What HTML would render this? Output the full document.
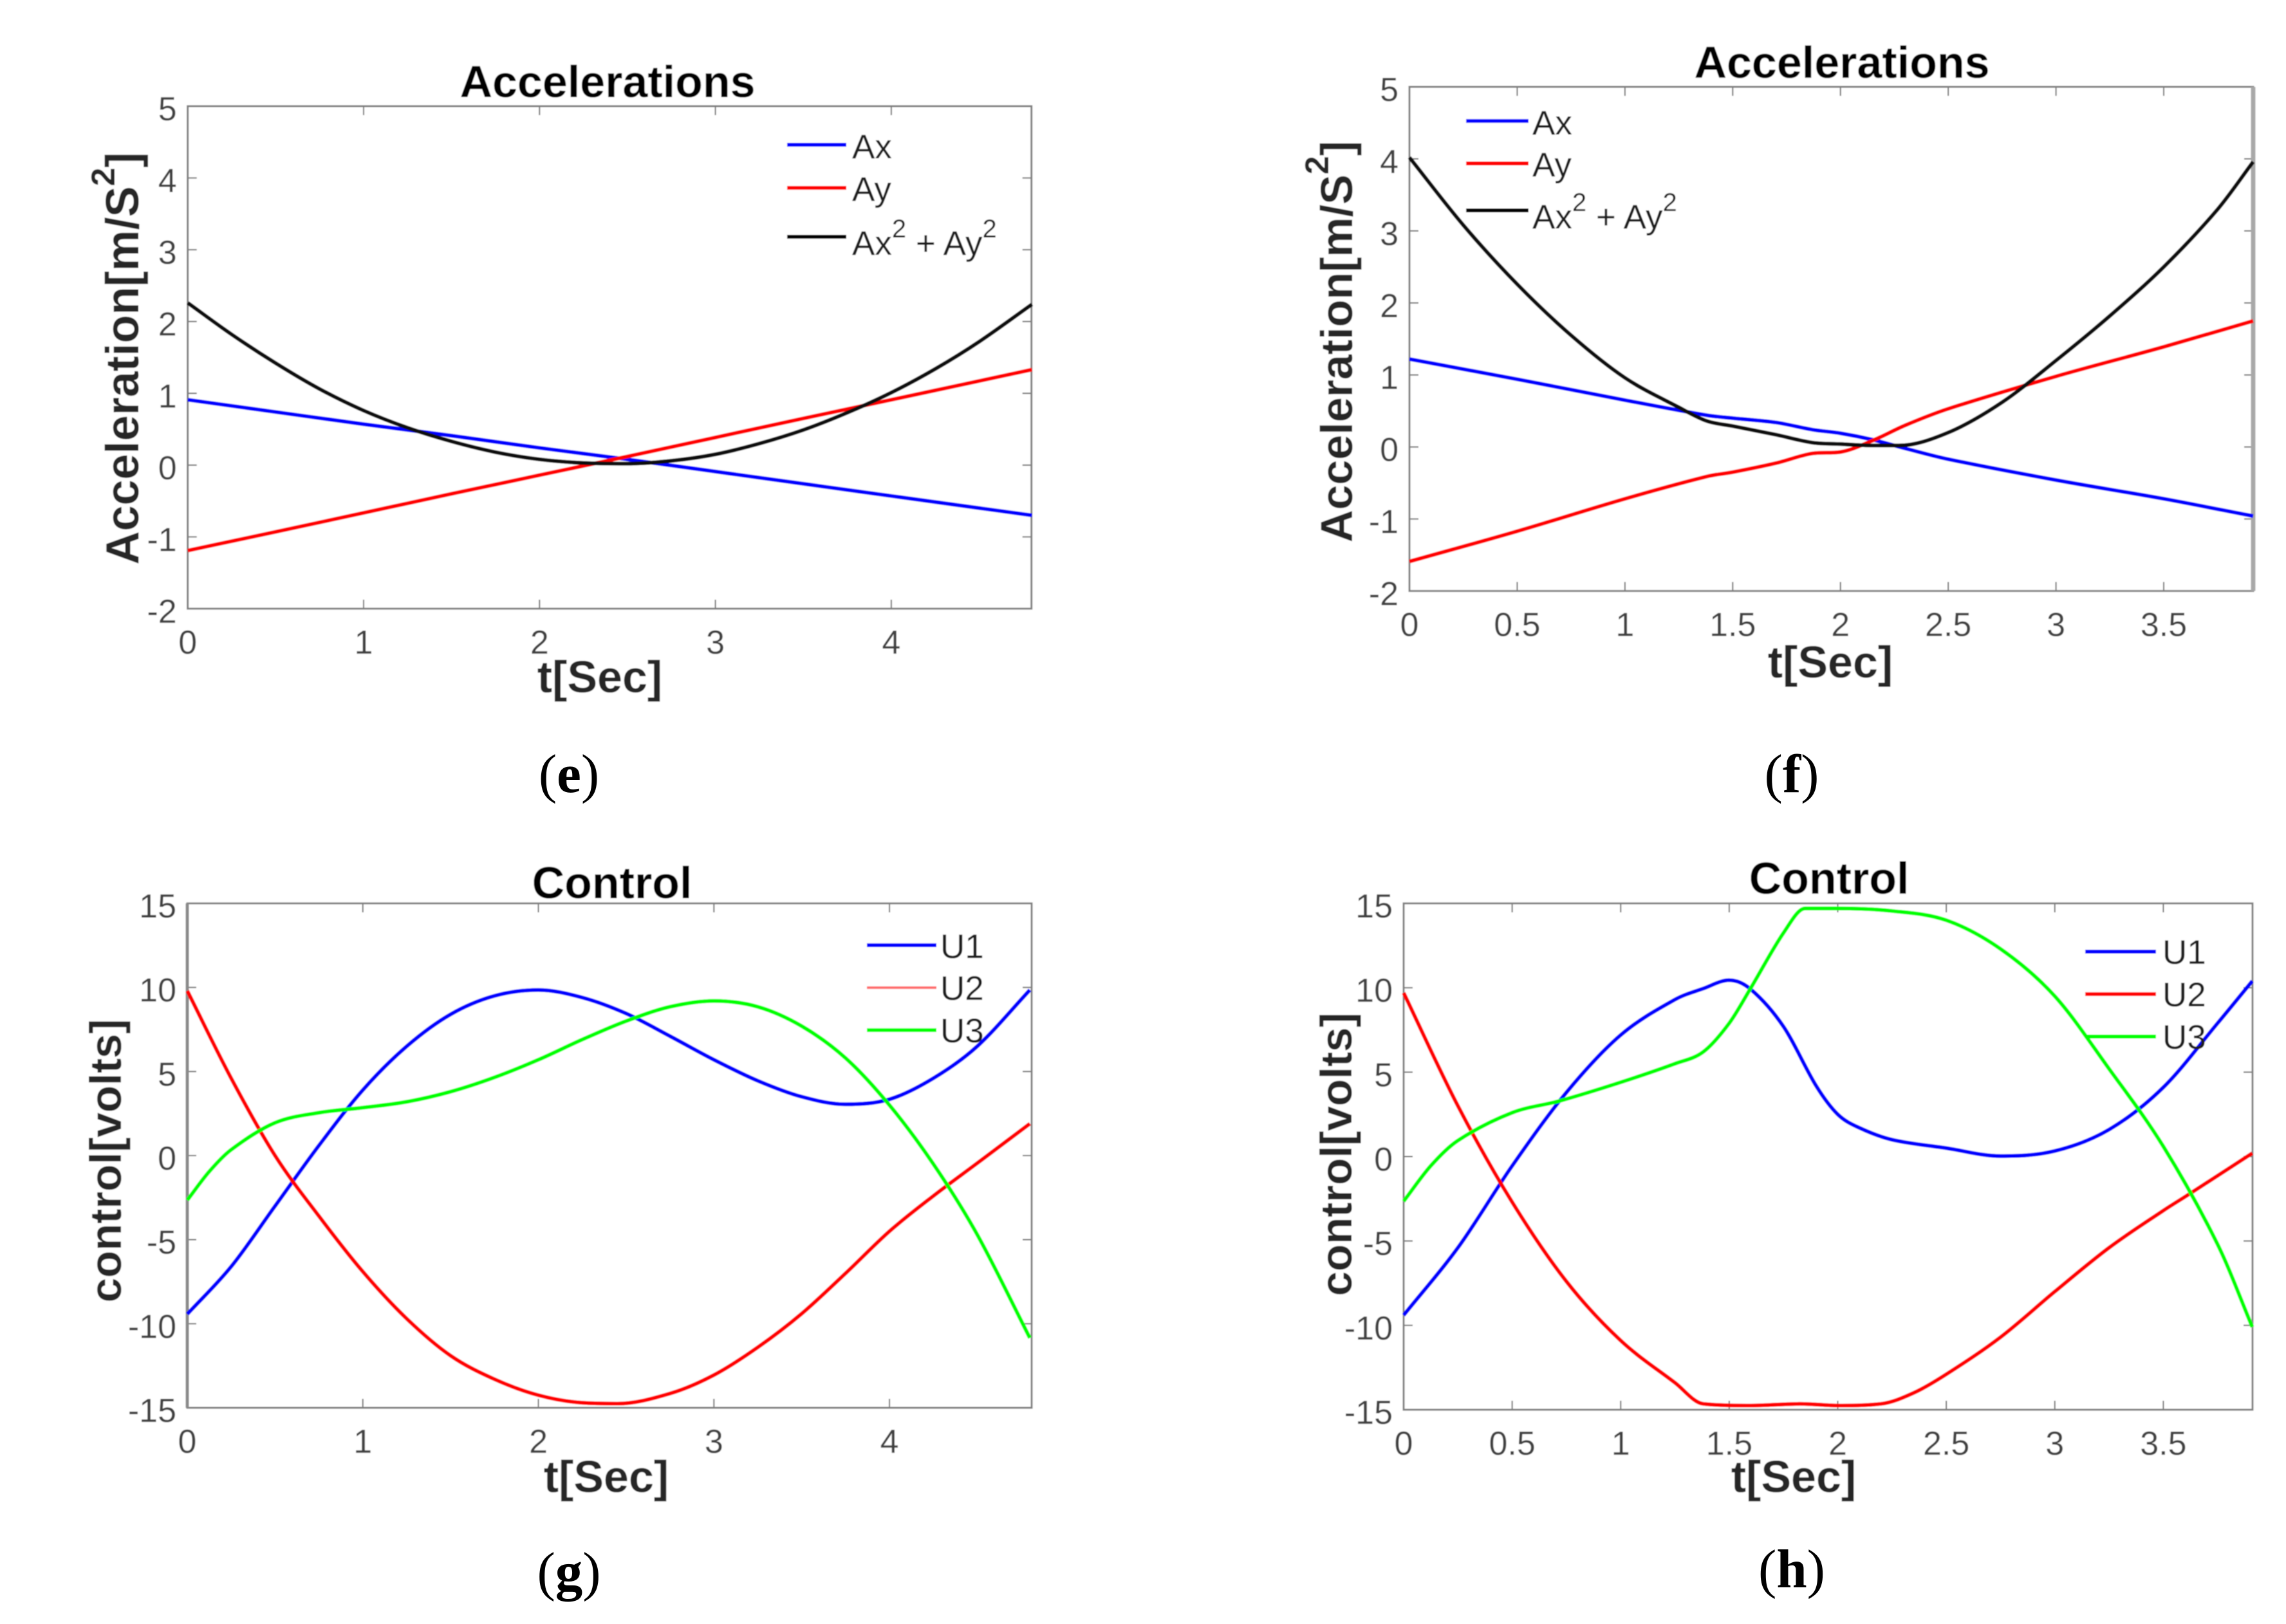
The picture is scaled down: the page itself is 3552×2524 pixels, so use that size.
<!DOCTYPE html>
<html lang="en">
<head>
<meta charset="utf-8">
<title>Accelerations and Control charts</title>
<style>
html,body{margin:0;padding:0;background:#fff;width:3552px;height:2524px;overflow:hidden}
svg{display:block}
text{font-family:"Liberation Sans",sans-serif}
.title{font-size:70px;font-weight:bold;fill:#000;text-anchor:middle}
.xlabel{font-size:70px;font-weight:bold;fill:#262626;text-anchor:middle}
.ylabel{font-weight:bold;fill:#262626;text-anchor:middle}
.legend{font-size:53px;fill:#1a1a1a}
.tick{font-size:52px;fill:#404040}
.caption{font-family:"Liberation Serif",serif;font-size:85px;fill:#000;text-anchor:middle}
.key{stroke-width:6;fill:none}
</style>
</head>
<body>
<svg id="figure" xmlns="http://www.w3.org/2000/svg" width="3552" height="2524" viewBox="0 0 3552 2524">
<defs><filter id="soft" x="0" y="0" width="100%" height="100%" filterUnits="objectBoundingBox"><feGaussianBlur stdDeviation="0.9"/></filter></defs>
<rect width="3552" height="2524" fill="#fff"/>

<g filter="url(#soft)">
  <rect x="100" y="60" width="1600" height="1060" fill="#fff"/>
  <g id="marks-e"></g>
  <text class="title" x="944" y="151">Accelerations</text>
  <text class="xlabel" x="932" y="1076">t[Sec]</text>
  <text class="ylabel" font-size="72" transform="translate(215 557) rotate(-90)">Acceleration[m/S<tspan font-size="52" dy="-37">2</tspan><tspan dy="37">]</tspan></text>
  <line class="key" x1="1223" x2="1315" y1="225" y2="225" stroke="#0000ff"/>
  <text class="legend" x="1324" y="246">Ax</text>
  <line class="key" x1="1223" x2="1315" y1="292" y2="292" stroke="#ff0000"/>
  <text class="legend" x="1324" y="312">Ay</text>
  <line class="key" x1="1223" x2="1315" y1="368" y2="368" stroke="#000"/>
  <text class="legend" x="1324" y="396">Ax<tspan font-size="40" dy="-27">2</tspan><tspan dy="27"> + Ay</tspan><tspan font-size="40" dy="-27">2</tspan></text>
</g>
<text class="caption" x="884" y="1231">(<tspan font-weight="bold">e</tspan>)</text>

<g filter="url(#soft)">
  <rect x="1950" y="40" width="1602" height="1060" fill="#fff"/>
  <g id="marks-f"></g>
  <text class="title" x="2862" y="121">Accelerations</text>
  <text class="xlabel" x="2844" y="1053">t[Sec]</text>
  <text class="ylabel" font-size="70" transform="translate(2101 531) rotate(-90)">Acceleration[m/S<tspan font-size="52" dy="-37">2</tspan><tspan dy="37">]</tspan></text>
  <line class="key" x1="2278" x2="2375" y1="188" y2="188" stroke="#0000ff"/>
  <text class="legend" x="2381" y="209">Ax</text>
  <line class="key" x1="2278" x2="2375" y1="254" y2="254" stroke="#ff0000"/>
  <text class="legend" x="2381" y="274">Ay</text>
  <line class="key" x1="2278" x2="2375" y1="327" y2="327" stroke="#000"/>
  <text class="legend" x="2381" y="355">Ax<tspan font-size="40" dy="-27">2</tspan><tspan dy="27"> + Ay</tspan><tspan font-size="40" dy="-27">2</tspan></text>
</g>
<text class="caption" x="2784" y="1231">(<tspan font-weight="bold">f</tspan>)</text>

<g filter="url(#soft)">
  <rect x="100" y="1320" width="1600" height="1040" fill="#fff"/>
  <g id="marks-g"></g>
  <text class="title" x="951" y="1396">Control</text>
  <text class="xlabel" x="942" y="2319">t[Sec]</text>
  <text class="ylabel" font-size="69" transform="translate(188 1804) rotate(-90)">control[volts]</text>
  <line class="key" x1="1347" x2="1455" y1="1469" y2="1469" stroke="#0000ff"/>
  <text class="legend" x="1461" y="1489">U1</text>
  <line class="key" x1="1347" x2="1455" y1="1535" y2="1535" stroke="#ff6a6a" style="stroke-width:4"/>
  <text class="legend" x="1461" y="1554">U2</text>
  <line class="key" x1="1347" x2="1455" y1="1601" y2="1601" stroke="#00ff00"/>
  <text class="legend" x="1461" y="1620">U3</text>
</g>
<text class="caption" x="884" y="2471">(<tspan font-weight="bold">g</tspan>)</text>

<g filter="url(#soft)">
  <rect x="1950" y="1320" width="1602" height="1040" fill="#fff"/>
  <g id="marks-h"></g>
  <text class="title" x="2842" y="1389">Control</text>
  <text class="xlabel" x="2787" y="2319">t[Sec]</text>
  <text class="ylabel" font-size="69" transform="translate(2100 1794) rotate(-90)">control[volts]</text>
  <line class="key" x1="3240" x2="3350" y1="1479" y2="1479" stroke="#0000ff"/>
  <text class="legend" x="3360" y="1498">U1</text>
  <line class="key" x1="3240" x2="3350" y1="1545" y2="1545" stroke="#ff0000"/>
  <text class="legend" x="3360" y="1564">U2</text>
  <line class="key" x1="3240" x2="3350" y1="1611" y2="1611" stroke="#00ff00"/>
  <text class="legend" x="3360" y="1630">U3</text>
</g>
<text class="caption" x="2784" y="2467">(<tspan font-weight="bold">h</tspan>)</text>
</svg>

<script>
// Tick labels
const accelYTicks = [-2, -1, 0, 1, 2, 3, 4, 5];
const controlYTicks = [-15, -10, -5, 0, 5, 10, 15];
const wholeSecondTicks = [0, 1, 2, 3, 4];
const halfSecondTicks = [0, 0.5, 1, 1.5, 2, 2.5, 3, 3.5];

// Panel (e)
const eLineTimes = [0, 0.5, 1, 1.5, 2, 2.5, 3, 3.5, 4, 4.8];
const eAx = [0.91, 0.74, 0.57, 0.41, 0.24, 0.08, -0.09, -0.26, -0.43, -0.70];
const eAy = [-1.19, -0.93, -0.665, -0.40, -0.14, 0.12, 0.385, 0.65, 0.91, 1.33];
const eSumTimes = [0, 0.25, 0.5, 0.75, 1, 1.25, 1.5, 1.75, 2, 2.25, 2.5, 2.75, 3, 3.25, 3.5, 3.75, 4, 4.25, 4.5, 4.8];
const eSum = [2.26, 1.82, 1.42, 1.06, 0.76, 0.52, 0.33, 0.18, 0.08, 0.03, 0.02, 0.06, 0.15, 0.30, 0.49, 0.73, 1.01, 1.34, 1.72, 2.24];

// Panel (f)
const fAxTimes = [0, 0.5, 1, 1.38, 1.5, 1.7, 1.87, 2, 2.15, 2.3, 2.5, 3, 3.5, 3.915];
const fAx = [1.22, 0.94, 0.65, 0.44, 0.40, 0.34, 0.24, 0.19, 0.10, -0.02, -0.17, -0.46, -0.72, -0.96];
const fAy = [-1.59, -1.17, -0.72, -0.41, -0.35, -0.225, -0.09, -0.07, 0.09, 0.30, 0.53, 0.98, 1.39, 1.75];
const fSumTimes = [0, 0.25, 0.5, 0.75, 1, 1.25, 1.38, 1.5, 1.7, 1.87, 2, 2.15, 2.27, 2.5, 2.75, 3, 3.25, 3.5, 3.75, 3.915];
const fSum = [4.02, 3.08, 2.26, 1.55, 0.96, 0.55, 0.36, 0.29, 0.17, 0.06, 0.04, 0.02, 0.02, 0.20, 0.62, 1.20, 1.82, 2.50, 3.30, 3.96];

// Panel (g)
const gU1Times = [0, 0.25, 0.5, 0.75, 1, 1.25, 1.5, 1.75, 2, 2.25, 2.5, 2.75, 3, 3.25, 3.5, 3.75, 4, 4.25, 4.5, 4.8];
const gU1 = [-9.43, -6.6, -3.0, 0.6, 3.9, 6.5, 8.4, 9.5, 9.85, 9.4, 8.45, 7.1, 5.7, 4.45, 3.5, 3.05, 3.35, 4.6, 6.5, 9.85];
const gU2Times = [0, 0.25, 0.5, 0.75, 1, 1.25, 1.5, 1.75, 2, 2.25, 2.45, 2.75, 3, 3.25, 3.5, 3.75, 4, 4.25, 4.5, 4.8];
const gU2 = [9.8, 4.6, 0.0, -3.6, -6.9, -9.7, -11.9, -13.3, -14.25, -14.7, -14.75, -14.15, -13.05, -11.4, -9.4, -7, -4.5, -2.4, -0.45, 1.9];
const gU3Times = [0, 0.125, 0.25, 0.5, 0.75, 1, 1.25, 1.5, 1.75, 2, 2.25, 2.5, 2.75, 3, 3.25, 3.5, 3.75, 4, 4.25, 4.5, 4.8];
const gU3 = [-2.65, -0.95, 0.35, 1.95, 2.55, 2.85, 3.2, 3.8, 4.65, 5.7, 6.9, 8.0, 8.85, 9.2, 8.85, 7.7, 5.8, 3.0, -0.5, -4.7, -10.85];

// Panel (h)
const hU1Times = [0, 0.25, 0.5, 0.75, 1, 1.25, 1.38, 1.5, 1.6, 1.75, 1.9, 2, 2.1, 2.25, 2.5, 2.75, 3, 3.25, 3.5, 3.75, 3.91];
const hU1 = [-9.4, -5.4, -0.55, 3.8, 7.2, 9.3, 9.95, 10.45, 9.9, 7.7, 4.2, 2.5, 1.7, 1.0, 0.5, 0.03, 0.33, 1.6, 4.1, 7.9, 10.4];
const hU2Times = [0, 0.25, 0.5, 0.75, 1, 1.25, 1.38, 1.6, 1.83, 2, 2.2, 2.35, 2.5, 2.75, 3, 3.25, 3.5, 3.61, 3.91];
const hU2 = [9.7, 3.0, -2.7, -7.4, -10.9, -13.4, -14.65, -14.75, -14.65, -14.75, -14.65, -14, -12.9, -10.7, -8, -5.4, -3.2, -2.3, 0.2];
const hU3Times = [0, 0.125, 0.25, 0.5, 0.72, 1, 1.25, 1.38, 1.5, 1.6, 1.75, 1.85, 2, 2.25, 2.5, 2.75, 3, 3.25, 3.5, 3.75, 3.91];
const hU3 = [-2.65, -0.55, 0.95, 2.6, 3.3, 4.4, 5.5, 6.2, 7.9, 10, 13.25, 14.7, 14.7, 14.55, 14.0, 12.3, 9.5, 5.2, 0.6, -5.2, -10.1];

const BLUE = '#0000ff', RED = '#ff0000', GREEN = '#00ff00', BLACK = '#111111';
const NS = 'http://www.w3.org/2000/svg';

function make(tag, attrs, parent) {
  const node = document.createElementNS(NS, tag);
  for (const key in attrs) node.setAttribute(key, attrs[key]);
  parent.appendChild(node);
  return node;
}

// Smooth limited Hermite path through the data, using the panel's axis functions.
function curvePath(times, values, sx, sy) {
  const px = times.map(sx), py = values.map(sy), n = px.length;
  const secant = i => (py[i + 1] - py[i]) / (px[i + 1] - px[i]);
  const slope = i => {
    if (i === 0) return secant(0);
    if (i === n - 1) return secant(n - 2);
    const s1 = secant(i - 1), s2 = secant(i);
    if (s1 * s2 <= 0) return 0;
    const central = (py[i + 1] - py[i - 1]) / (px[i + 1] - px[i - 1]);
    const limit = 3 * Math.min(Math.abs(s1), Math.abs(s2));
    return Math.sign(central) * Math.min(Math.abs(central), limit);
  };
  let d = 'M' + px[0].toFixed(2) + ' ' + py[0].toFixed(2);
  for (let i = 0; i < n - 1; i++) {
    const h = (px[i + 1] - px[i]) / 3;
    d += 'C' + (px[i] + h).toFixed(2) + ' ' + (py[i] + slope(i) * h).toFixed(2) + ' ' +
         (px[i + 1] - h).toFixed(2) + ' ' + (py[i + 1] - slope(i + 1) * h).toFixed(2) + ' ' +
         px[i + 1].toFixed(2) + ' ' + py[i + 1].toFixed(2);
  }
  return d;
}

function drawPanel(cfg) {
  const g = document.getElementById(cfg.id);
  const sx = v => cfg.left + (v - 0) / cfg.xMax * (cfg.right - cfg.left);
  const sy = v => cfg.bottom - (v - cfg.yMin) / (cfg.yMax - cfg.yMin) * (cfg.bottom - cfg.top);

  cfg.xTicks.forEach(v => {
    const x = sx(v);
    if (v !== 0) {
      const bottomTick = make('line', {x1: x, x2: x, y1: cfg.bottom, y2: cfg.bottom - 14, stroke: '#6e6e6e', 'stroke-width': 2}, g);
      
      
      const topTick = make('line', {x1: x, x2: x, y1: cfg.top, y2: cfg.top + 14, stroke: '#6e6e6e', 'stroke-width': 2}, g);
      
      
    }
    const label = make('text', {class: 'tick', x: x, y: cfg.bottom + 70, 'text-anchor': 'middle'}, g);
    
    
    label.textContent = String(v);
  });

  cfg.yTicks.forEach(v => {
    const y = sy(v);
    if (v !== cfg.yMin && v !== cfg.yMax) {
      const leftTick = make('line', {x1: cfg.left, x2: cfg.left + 14, y1: y, y2: y, stroke: '#6e6e6e', 'stroke-width': 2}, g);
      
      
      const rightTick = make('line', {x1: cfg.right, x2: cfg.right - 14, y1: y, y2: y, stroke: '#6e6e6e', 'stroke-width': 2}, g);
      
      
    }
    const label = make('text', {class: 'tick', x: cfg.left - 17, y: y + 22, 'text-anchor': 'end'}, g);
    
    
    label.textContent = String(v);
  });

  const frame = make('rect', {x: cfg.left, y: cfg.top, width: cfg.right - cfg.left, height: cfg.bottom - cfg.top, fill: 'none', stroke: '#7f7f7f', 'stroke-width': 3}, g);
  
  

  if (cfg.heavyEdge) {
    const edgeX = cfg.heavyEdge === 'left' ? cfg.left : cfg.right;
    const edge = make('line', {x1: edgeX, x2: edgeX, y1: cfg.top, y2: cfg.bottom, stroke: cfg.heavyColor, 'stroke-width': cfg.heavyWidth}, g);
    
    
  }

  cfg.series.forEach(s => {
    const line = make('path', {d: curvePath(s.times, s.values, sx, sy), fill: 'none', stroke: s.color, 'stroke-width': 6, 'stroke-linejoin': 'round'}, g);
    
    
  });
}

drawPanel({id: 'marks-e', left: 291.7, right: 1602.7, top: 165, bottom: 946, xMax: 4.797, yMin: -2, yMax: 5,
  xTicks: wholeSecondTicks, yTicks: accelYTicks,
  series: [
    {name: 'series-ax', times: eLineTimes, values: eAx, color: BLUE},
    {name: 'series-ay', times: eLineTimes, values: eAy, color: RED},
    {name: 'series-sum', times: eSumTimes, values: eSum, color: BLACK}
  ]});
drawPanel({id: 'marks-f', left: 2190, right: 3501, top: 135, bottom: 918.5, xMax: 3.915, yMin: -2, yMax: 5,
  heavyEdge: 'right', heavyColor: '#a8a8a8', heavyWidth: 7,
  xTicks: halfSecondTicks, yTicks: accelYTicks,
  series: [
    {name: 'series-ax', times: fAxTimes, values: fAx, color: BLUE},
    {name: 'series-ay', times: fAxTimes, values: fAy, color: RED},
    {name: 'series-sum', times: fSumTimes, values: fSum, color: BLACK}
  ]});
drawPanel({id: 'marks-g', left: 291, right: 1603, top: 1404, bottom: 2188, xMax: 4.81, yMin: -15, yMax: 15,
  heavyEdge: 'left', heavyColor: '#8a8a8a', heavyWidth: 5,
  xTicks: wholeSecondTicks, yTicks: controlYTicks,
  series: [
    {name: 'series-u1', times: gU1Times, values: gU1, color: BLUE},
    {name: 'series-u2', times: gU2Times, values: gU2, color: RED},
    {name: 'series-u3', times: gU3Times, values: gU3, color: GREEN}
  ]});
drawPanel({id: 'marks-h', left: 2181, right: 3500, top: 1404, bottom: 2191, xMax: 3.911, yMin: -15, yMax: 15,
  xTicks: halfSecondTicks, yTicks: controlYTicks,
  series: [
    {name: 'series-u1', times: hU1Times, values: hU1, color: BLUE},
    {name: 'series-u2', times: hU2Times, values: hU2, color: RED},
    {name: 'series-u3', times: hU3Times, values: hU3, color: GREEN}
  ]});
</script>
</body>
</html>
